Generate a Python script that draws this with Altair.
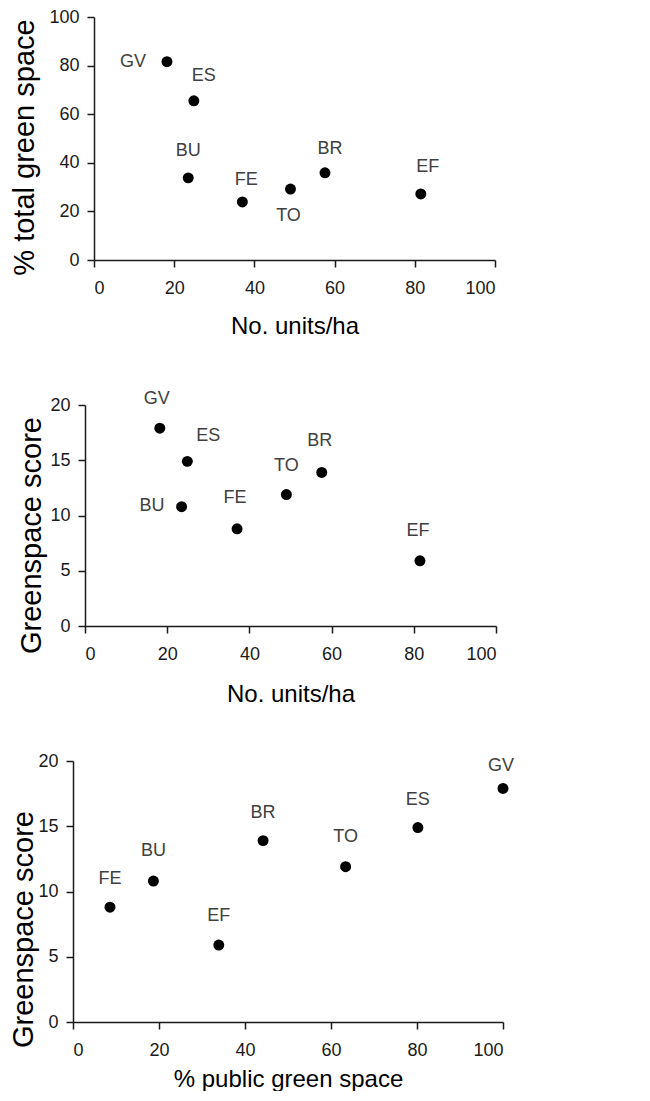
import altair as alt
import pandas as pd

# ---- data ----
sites = ["GV", "ES", "BU", "FE", "TO", "BR", "EF"]
units_per_ha = [18.2, 24.9, 23.5, 37.0, 49.0, 57.6, 81.5]
pct_total_green = [81.6, 65.5, 33.8, 23.9, 29.2, 35.9, 27.2]
greenspace_score = [17.9, 14.9, 10.8, 8.8, 11.9, 13.9, 5.9]
pct_public_green = [100.0, 80.2, 18.7, 8.6, 63.4, 44.2, 33.9]

x_ticks = [0, 20, 40, 60, 80, 100]
y_ticks_pct = [0, 20, 40, 60, 80, 100]
y_ticks_score = [0, 5, 10, 15, 20]

df = pd.DataFrame({
    "site": sites,
    "units": units_per_ha,
    "total": pct_total_green,
    "score": greenspace_score,
    "public": pct_public_green,
})

FONT = "Liberation Sans, Arial, sans-serif"
LABEL_COLOR = "#404040"
AXIS_COLOR = "#1a1a1a"

# label placement per panel: site -> (dx, dy, align)
offsets_1 = {
    "GV": (-21, 0, "right"), "ES": (10, -25, "center"), "BU": (0, -27, "center"),
    "FE": (4, -22, "center"), "TO": (-2, 27, "center"), "BR": (5, -24, "center"),
    "EF": (7, -27, "center"),
}
offsets_2 = {
    "GV": (-3, -29, "center"), "ES": (21, -25, "center"), "BU": (-17, -1, "right"),
    "FE": (-2, -31, "center"), "TO": (0, -29, "center"), "BR": (-2, -31, "center"),
    "EF": (-2, -30, "center"),
}
offsets_3 = {
    "FE": (0, -28, "center"), "BU": (0, -30, "center"), "EF": (0, -29, "center"),
    "BR": (0, -28, "center"), "TO": (0, -30, "center"), "ES": (0, -28, "center"),
    "GV": (-2, -22, "center"),
}


def panel(xf, yf, xtitle, ytitle, ymax, yticks, w, h, ytitle_x, ytitle_y, xtitle_y, offsets):
    xe = alt.X(f"{xf}:Q",
               scale=alt.Scale(domain=[0, 100], nice=False),
               axis=alt.Axis(title=xtitle, values=x_ticks, titleY=xtitle_y,
                             titleBaseline="alphabetic", labelPadding=12))
    ye = alt.Y(f"{yf}:Q",
               scale=alt.Scale(domain=[0, ymax], nice=False),
               axis=alt.Axis(title=ytitle, values=yticks, titleX=ytitle_x, titleY=ytitle_y,
                             titleBaseline="middle", titleAngle=270, labelPadding=8))
    layers = [alt.Chart(df).mark_circle(size=120, color="black", opacity=1).encode(x=xe, y=ye)]
    for s, (dx, dy, align) in offsets.items():
        layers.append(
            alt.Chart(df).transform_filter(alt.datum.site == s)
            .mark_text(dx=dx, dy=dy, align=align, baseline="middle", fontSize=18,
                       font=FONT, color=LABEL_COLOR)
            .encode(x=xe, y=ye, text="site:N")
        )
    return alt.layer(*layers).properties(width=w, height=h)


def spacer(w, h):
    return (alt.Chart(pd.DataFrame({"a": [0]}))
            .mark_point(size=0, opacity=0)
            .encode(x=alt.value(0), y=alt.value(0))
            .properties(width=w, height=h))


p1 = panel("units", "total", "No. units/ha", "% total green space", 100, y_ticks_pct,
           401, 243, -70, 130, 73, offsets_1)
p2 = panel("units", "score", "No. units/ha", "Greenspace score", 20, y_ticks_score,
           411, 221, -54, 130, 75, offsets_2)
p3 = panel("public", "score", "% public green space", "Greenspace score", 20, y_ticks_score,
           430, 261, -50, 168, 64, offsets_3)

row1 = alt.hconcat(spacer(0.01, 327), p1, spacing=0)
row2 = alt.hconcat(spacer(7.5, 10), p2, spacing=0)
row3 = alt.hconcat(spacer(0.01, 10), p3, spacing=0)

chart = (
    alt.vconcat(row1, row2, row3, spacing=46)
    .properties(padding={"left": 0, "top": 0, "right": 5, "bottom": 0})
    .configure_view(stroke=None)
    .configure_axis(
        grid=False,
        domainColor=AXIS_COLOR, domainWidth=1.5,
        tickColor=AXIS_COLOR, tickWidth=1.5, tickSize=7,
        labelFont=FONT, labelFontSize=18, labelColor=AXIS_COLOR,
        titleFont=FONT, titleFontWeight="normal", titleColor="black",
    )
    .configure_axisX(titleFontSize=24)
    .configure_axisY(titleFontSize=29)
)

chart.save("out.html", embed_options={"renderer": "svg", "actions": False})
